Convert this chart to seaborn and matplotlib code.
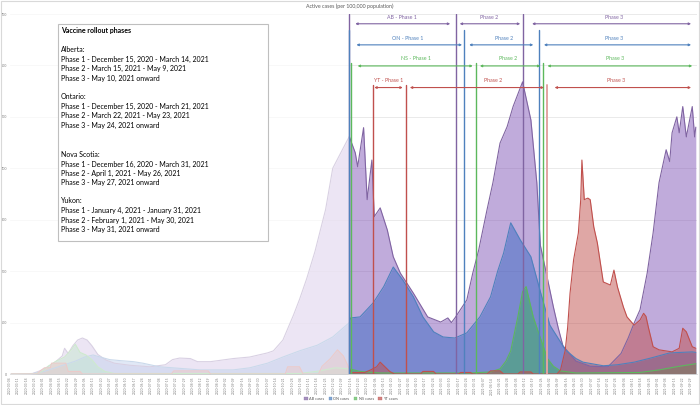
import matplotlib
matplotlib.use('Agg')
import matplotlib.pyplot as plt
from matplotlib.patches import Rectangle, Patch
import pandas as pd
import seaborn as sns

# Active cases per 100,000 population
ab_dates = ['2020-03-05', '2020-03-08', '2020-03-23', '2020-03-29', '2020-04-05', '2020-04-12', '2020-04-17',
            '2020-04-19', '2020-04-22', '2020-04-26', '2020-04-30', '2020-05-04', '2020-05-08', '2020-05-12',
            '2020-05-17', '2020-05-24', '2020-05-31', '2020-06-13', '2020-06-30', '2020-07-13', '2020-07-19',
            '2020-07-25', '2020-08-03', '2020-08-09', '2020-08-20', '2020-09-08', '2020-09-22', '2020-10-07',
            '2020-10-12', '2020-10-20', '2020-10-29', '2020-11-03', '2020-11-09', '2020-11-16', '2020-11-25',
            '2020-12-01', '2020-12-10', '2020-12-15', '2020-12-16', '2020-12-20', '2020-12-22', '2020-12-27',
            '2020-12-30', '2021-01-03', '2021-01-05', '2021-01-10', '2021-01-16', '2021-01-21', '2021-01-27',
            '2021-02-07', '2021-02-19', '2021-03-02', '2021-03-08', '2021-03-11', '2021-03-14', '2021-03-24',
            '2021-03-29', '2021-04-03', '2021-04-10', '2021-04-15', '2021-04-21', '2021-04-27', '2021-05-02',
            '2021-05-10', '2021-05-17', '2021-05-22', '2021-05-25', '2021-05-31', '2021-06-05', '2021-06-09',
            '2021-06-13', '2021-06-24', '2021-07-06', '2021-07-21', '2021-08-01', '2021-08-07', '2021-08-12',
            '2021-08-17', '2021-08-23', '2021-08-28', '2021-09-02', '2021-09-08', '2021-09-11', '2021-09-13',
            '2021-09-17', '2021-09-19', '2021-09-22', '2021-09-25', '2021-09-30', '2021-10-02', '2021-10-03']
ab_cases = [0, 0, 1, 6, 14, 25, 35,
            50, 40, 55, 66, 70, 66, 55,
            38, 27, 21, 17, 14, 18, 28,
            31, 30, 24, 24, 30, 33, 41,
            45, 66, 115, 145, 185, 238, 320,
            400, 440, 462, 455, 430, 403, 479,
            339, 416, 306, 323, 280, 228, 196,
            157, 111, 101, 109, 100, 109, 144,
            196, 241, 319, 372, 449, 481, 520,
            568, 494, 372, 250, 185, 130, 90,
            55, 25, 15, 14, 40, 70, 99,
            125, 196, 274, 372, 436, 413, 469,
            500, 469, 520, 461, 520, 461, 480]

on_dates = ['2020-03-05', '2020-03-21', '2020-04-02', '2020-04-15', '2020-04-28', '2020-05-06', '2020-05-13',
            '2020-05-19', '2020-05-27', '2020-06-05', '2020-06-16', '2020-06-24', '2020-07-08', '2020-07-25',
            '2020-08-11', '2020-09-08', '2020-09-22', '2020-10-07', '2020-10-20', '2020-11-03', '2020-11-18',
            '2020-12-01', '2020-12-15', '2020-12-16', '2020-12-24', '2021-01-04', '2021-01-13', '2021-01-21',
            '2021-01-29', '2021-02-07', '2021-02-15', '2021-02-24', '2021-03-04', '2021-03-14', '2021-03-24',
            '2021-04-04', '2021-04-13', '2021-04-19', '2021-04-24', '2021-04-30', '2021-05-08', '2021-05-17',
            '2021-05-25', '2021-06-02', '2021-06-11', '2021-06-15', '2021-06-24', '2021-06-30', '2021-07-17',
            '2021-07-29', '2021-08-12', '2021-08-26', '2021-09-11', '2021-09-30', '2021-10-03']
on_cases = [0, 0, 5, 15, 25, 33, 37,
            33, 28, 26, 24, 21, 14, 11,
            8, 8, 12, 21, 33, 45, 56,
            72, 100, 109, 111, 138, 170, 208,
            183, 150, 111, 82, 72, 70, 80,
            111, 150, 200, 235, 294, 261, 228,
            160, 95, 62, 47, 30, 23, 16,
            18, 23, 31, 41, 43, 42]

ns_dates = ['2020-03-05', '2020-03-25', '2020-03-31', '2020-04-05', '2020-04-12', '2020-04-19', '2020-04-25',
            '2020-04-28', '2020-05-02', '2020-05-07', '2020-05-12', '2020-05-17', '2020-05-23', '2020-05-31',
            '2020-11-03', '2020-11-20', '2020-12-03', '2020-12-15', '2020-12-24', '2021-01-10', '2021-03-27',
            '2021-04-13', '2021-04-21', '2021-04-26', '2021-04-30', '2021-05-06', '2021-05-10', '2021-05-13',
            '2021-05-15', '2021-05-19', '2021-05-25', '2021-05-31', '2021-06-05', '2021-06-11', '2021-06-24',
            '2021-08-17', '2021-09-02', '2021-09-19', '2021-10-03']
ns_cases = [0, 0, 5, 15, 25, 33, 48,
            58, 42, 37, 28, 14, 5, 1,
            1, 6, 12, 10, 5, 2, 2,
            4, 10, 25, 45, 111, 160, 170,
            150, 111, 70, 30, 15, 6, 2,
            3, 8, 15, 20]

yt_dates = ['2020-03-05', '2020-03-27', '2020-03-29', '2020-04-02', '2020-04-07', '2020-04-08', '2020-04-20',
            '2020-04-22', '2020-05-02', '2020-05-04', '2020-07-18', '2020-07-20', '2020-08-18', '2020-08-20',
            '2020-10-22', '2020-10-24', '2020-11-03', '2020-11-06', '2020-11-19', '2020-11-22', '2020-11-29',
            '2020-12-05', '2020-12-10', '2020-12-15', '2020-12-17', '2020-12-28', '2021-01-02', '2021-01-07',
            '2021-01-10', '2021-01-14', '2021-01-18', '2021-01-22', '2021-02-13', '2021-02-15', '2021-02-24',
            '2021-02-26', '2021-03-17', '2021-03-19', '2021-03-27', '2021-03-29', '2021-04-10', '2021-04-13',
            '2021-04-21', '2021-04-24', '2021-05-06', '2021-05-08', '2021-05-17', '2021-05-19', '2021-06-08',
            '2021-06-11', '2021-06-15', '2021-06-17', '2021-06-19', '2021-06-22', '2021-06-26', '2021-06-28',
            '2021-06-29', '2021-07-01', '2021-07-04', '2021-07-06', '2021-07-09', '2021-07-12', '2021-07-17',
            '2021-07-23', '2021-07-26', '2021-07-29', '2021-08-03', '2021-08-06', '2021-08-12', '2021-08-17',
            '2021-08-20', '2021-08-22', '2021-08-24', '2021-08-28', '2021-09-02', '2021-09-13', '2021-09-19',
            '2021-09-22', '2021-09-25', '2021-09-30', '2021-10-03']
yt_cases = [0, 0, 5, 12, 12, 21, 21,
            5, 5, 0, 0, 6, 6, 0,
            0, 14, 14, 0, 0, 15, 30,
            47, 35, 10, 3, 3, 8, 14,
            23, 14, 5, 0, 0, 5, 5,
            0, 0, 3, 3, 0, 0, 6,
            6, 0, 0, 4, 4, 0, 0,
            8, 47, 91, 157, 222, 274, 339,
            416, 339, 342, 339, 286, 255, 179,
            173, 202, 169, 130, 111, 95, 105,
            118, 112, 91, 53, 47, 43, 50,
            89, 82, 53, 50]

provinces = ['AB', 'ON', 'NS', 'YT']
legend_labels = ['AB cases', 'ON cases', 'NS cases', 'YT cases']
colors = {'AB': '#8064A2', 'ON': '#4F81BD', 'NS': '#5CB85C', 'YT': '#C0504D'}
fill_colors = {'AB': '#8358B8', 'ON': '#3868C4', 'NS': '#3DAF5E', 'YT': '#C0504D'}

# vaccine phase start dates per province, and how high the marker line goes
phase_dates = {
    'AB': ['2020-12-15', '2021-03-15', '2021-05-10'],
    'ON': ['2020-12-15', '2021-03-22', '2021-05-24'],
    'NS': ['2020-12-16', '2021-04-01', '2021-05-27'],
    'YT': ['2021-01-04', '2021-02-01', '2021-05-31'],
}
line_top = {'AB': 700, 'ON': 669, 'NS': 605, 'YT': 562}

# phase arrows: (start, end, label position, label)
phase_arrows = {
    'AB': [('2020-12-20', '2021-03-10', '2021-01-28', 'AB - Phase 1'),
           ('2021-03-18', '2021-05-08', '2021-04-12', 'Phase 2'),
           ('2021-05-18', '2021-09-29', '2021-07-26', 'Phase 3')],
    'ON': [('2020-12-21', '2021-03-20', '2021-02-02', 'ON - Phase 1'),
           ('2021-03-26', '2021-05-19', '2021-04-24', 'Phase 2'),
           ('2021-05-28', '2021-09-29', '2021-07-26', 'Phase 3')],
    'NS': [('2020-12-22', '2021-03-29', '2021-02-09', 'NS - Phase 1'),
           ('2021-04-04', '2021-05-25', '2021-04-28', 'Phase 2'),
           ('2021-05-31', '2021-09-30', '2021-07-27', 'Phase 3')],
    'YT': [('2021-01-05', '2021-01-29', '2021-01-17', 'YT - Phase 1'),
           ('2021-02-04', '2021-05-28', '2021-04-15', 'Phase 2'),
           ('2021-06-06', '2021-09-29', '2021-07-28', 'Phase 3')],
}
arrow_level = {'AB': 681, 'ON': 640, 'NS': 599, 'YT': 557}
label_level = {'AB': 693, 'ON': 652, 'NS': 613, 'YT': 571}

box_lines = [
    ('Vaccine rollout phases', 30.7, True),
    ('Alberta:', 50, False),
    ('Phase 1 - December 15, 2020 - March 14, 2021', 59.3, False),
    ('Phase 2 - March 15, 2021 - May 9, 2021', 68.7, False),
    ('Phase 3 - May 10, 2021 onward', 78, False),
    ('Ontario:', 96.7, False),
    ('Phase 1 - December 15, 2020 - March 21, 2021', 106, False),
    ('Phase 2 - March 22, 2021 - May 23, 2021', 115.5, False),
    ('Phase 3 - May 24, 2021 onward', 125, False),
    ('Nova Scotia:', 154.5, False),
    ('Phase 1 - December 16, 2020 - March 31, 2021', 164, False),
    ('Phase 2 - April 1, 2021 - May 26, 2021', 173.3, False),
    ('Phase 3 - May 27, 2021 onward', 182.3, False),
    ('Yukon:', 201, False),
    ('Phase 1 - January 4, 2021 - January 31, 2021', 210.7, False),
    ('Phase 2 - February 1, 2021 - May 30, 2021', 220, False),
    ('Phase 3 - May 31, 2021 onward', 229, False),
]

series = {
    'AB': (ab_dates, ab_cases),
    'ON': (on_dates, on_cases),
    'NS': (ns_dates, ns_cases),
    'YT': (yt_dates, yt_cases),
}
frames = []
for p in provinces:
    d, v = series[p]
    frames.append(pd.DataFrame({'date': pd.to_datetime(d), 'cases': v, 'province': p}))
df = pd.concat(frames, ignore_index=True)

sns.set_theme(style='white')
plt.rcParams['font.family'] = ['Lato', 'DejaVu Sans']

W, H = 700, 405
fig = plt.figure(figsize=(W / 100, H / 100), dpi=100)
ax = fig.add_axes([10 / W, 1 - 374 / H, 687 / W, 360 / H])

# areas
for p in provinces:
    sub = df[df['province'] == p]
    ax.fill_between(sub['date'], 0, sub['cases'], color=fill_colors[p], alpha=0.5, lw=0, zorder=2)
sns.lineplot(data=df, x='date', y='cases', hue='province', palette=colors, hue_order=provinces,
             linewidth=0.8, legend=False, ax=ax, zorder=2.2)

x0 = pd.Timestamp('2020-03-04')
x1 = pd.Timestamp('2021-10-04')
ax.set_xlim(x0, x1)
ax.set_ylim(0, 700)

# wash out the pre-vaccine period
ax.axvspan(x0, pd.Timestamp('2020-12-15'), color='white', alpha=0.7, lw=0, zorder=2.5)

# phase start lines
for p in provinces:
    for i, d in enumerate(phase_dates[p]):
        c = colors[p]
        lw = 1.0
        if p == 'YT' and i == 2:
            c, lw = '#E3A3A1', 1.4
        ax.axvline(pd.Timestamp(d), ymin=0, ymax=line_top[p] / 700, color=c, lw=lw, zorder=3)

# phase arrows + labels
for p in provinces:
    c = colors[p]
    for s, e, t, lab in phase_arrows[p]:
        ax.annotate('', xy=(pd.Timestamp(e), arrow_level[p]), xytext=(pd.Timestamp(s), arrow_level[p]),
                    arrowprops=dict(arrowstyle='<|-|>', color=c, lw=0.8, mutation_scale=3,
                                    shrinkA=0, shrinkB=0), zorder=4)
        ax.text(pd.Timestamp(t), label_level[p], lab, ha='center', va='center', fontsize=3.8,
                color=c, zorder=4)

# axes styling
ax.set_yticks(range(0, 800, 100))
ax.yaxis.grid(True, color='#E6E6E6', lw=0.6)
ax.set_axisbelow(True)
ticks = pd.date_range('2020-03-04', '2021-09-29', freq='7D')
ax.set_xticks(ticks)
ax.set_xticklabels([t.strftime('%Y-%m-%d') for t in ticks], rotation=90, fontsize=2.3, color='#808080')
ax.tick_params(axis='y', labelsize=2.6, labelcolor='#808080', length=0, pad=2)
ax.tick_params(axis='x', length=0, pad=2)
ax.set_xlabel('')
ax.set_ylabel('')
for side in ['top', 'right', 'left']:
    ax.spines[side].set_visible(False)
ax.spines['bottom'].set_color('#D9D9D9')
ax.spines['bottom'].set_linewidth(0.6)

fig.text(350 / W, 1 - 6 / H, 'Active cases (per 100,000 population)', ha='center', va='center',
         fontsize=3.8, color='#595959')

# text box
fig.add_artist(Rectangle((57.7 / W, 1 - 240.7 / H), (268.3 - 57.7) / W, (240.7 - 24) / H,
                         transform=fig.transFigure, facecolor='white', edgecolor='#BFBFBF', lw=0.8, zorder=10))
for txt, py, bold in box_lines:
    fig.text(61 / W, 1 - py / H, txt, ha='left', va='center', fontsize=5.0, color='black',
             fontweight='bold' if bold else 'normal', zorder=11)

# legend
handles = [Patch(facecolor=colors[p], alpha=0.7, edgecolor=colors[p], lw=0.3) for p in provinces]
fig.legend(handles, legend_labels, loc='center', bbox_to_anchor=(351 / W, 1 - 399 / H), ncol=4,
           fontsize=2.8, frameon=False, handlelength=0.9, handleheight=0.9, columnspacing=1.2,
           handletextpad=0.3, labelcolor='#595959')

# outer frame
fig.add_artist(Rectangle((0.001, 0.003), 0.997, 0.994, transform=fig.transFigure, fill=False,
                         edgecolor='#D9D9D9', lw=0.8))

fig.savefig('out.png', dpi=100)
